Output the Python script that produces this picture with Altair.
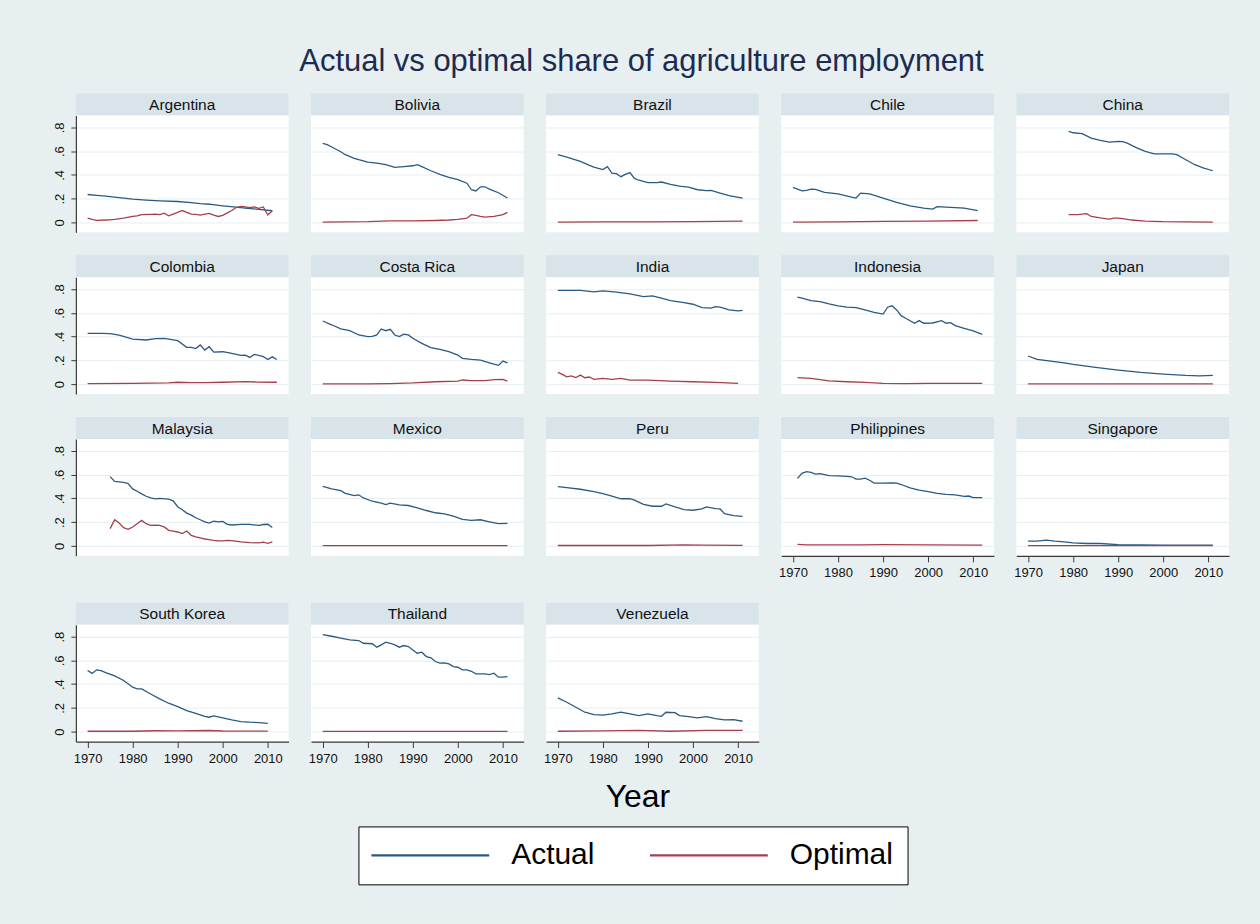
import altair as alt
import pandas as pd

# Share of employment in agriculture: (year, share) pairs per country.
argentina_actual = [(1970, .235), (1972, .228), (1974, .222), (1976, .213), (1978, .204), (1980, .196),
                    (1983, .188), (1986, .182), (1990, .176), (1993, .166), (1995, .158), (1997, .153),
                    (2000, .14), (2003, .128), (2005, .12), (2008, .11), (2011, .098)]
argentina_optimal = [(1970, .036), (1971, .025), (1972, .017), (1974, .02), (1975, .022), (1976, .026),
                     (1978, .036), (1980, .05), (1981, .055), (1982, .065), (1984, .068), (1985, .07),
                     (1986, .066), (1987, .078), (1988, .056), (1989, .07), (1990, .084), (1991, .1),
                     (1992, .085), (1993, .07), (1994, .068), (1995, .062), (1996, .07), (1997, .076),
                     (1998, .062), (1999, .05), (2000, .06), (2001, .08), (2002, .1), (2003, .125),
                     (2004, .135), (2005, .13), (2006, .125), (2007, .13), (2008, .118), (2009, .13),
                     (2010, .062), (2011, .098)]

bolivia_actual = [(1970, .665), (1971, .655), (1972, .635), (1974, .595), (1975, .57), (1977, .54),
                  (1978, .528), (1980, .508), (1982, .50), (1984, .486), (1986, .463), (1988, .47),
                  (1990, .477), (1991, .486), (1992, .47), (1994, .435), (1996, .405), (1998, .38),
                  (2000, .36), (2002, .33), (2003, .275), (2004, .265), (2005, .30), (2006, .30),
                  (2007, .28), (2009, .25), (2011, .205)]
bolivia_optimal = [(1970, .003), (1975, .005), (1980, .006), (1985, .012), (1990, .013), (1995, .016),
                   (1998, .02), (2000, .025), (2002, .035), (2003, .065), (2004, .06), (2005, .05),
                   (2006, .045), (2008, .05), (2010, .065), (2011, .085)]

brazil_actual = [(1970, .57), (1972, .55), (1975, .514), (1977, .48), (1978, .466), (1979, .455),
                 (1980, .445), (1981, .47), (1982, .415), (1983, .41), (1984, .385), (1985, .405),
                 (1986, .42), (1987, .37), (1988, .355), (1990, .335), (1992, .335), (1993, .34),
                 (1995, .32), (1997, .305), (1999, .297), (2001, .275), (2003, .267), (2004, .27),
                 (2006, .247), (2008, .225), (2011, .205)]
brazil_optimal = [(1970, .003), (1980, .004), (1990, .005), (2000, .007), (2011, .01)]

chile_actual = [(1970, .295), (1972, .265), (1973, .27), (1974, .28), (1975, .278), (1977, .253),
                (1980, .24), (1983, .213), (1984, .205), (1985, .247), (1987, .24), (1990, .205),
                (1993, .168), (1996, .14), (1999, .12), (2001, .112), (2002, .133), (2005, .126),
                (2008, .12), (2011, .10)]
chile_optimal = [(1970, .003), (1980, .005), (1990, .008), (2000, .011), (2011, .016)]

china_actual = [(1979, .766), (1980, .755), (1982, .747), (1984, .71), (1986, .69), (1988, .676),
                (1990, .682), (1991, .68), (1992, .668), (1994, .63), (1996, .598), (1998, .578),
                (2000, .578), (2002, .578), (2003, .57), (2005, .528), (2007, .486), (2009, .458),
                (2011, .435)]
china_optimal = [(1979, .065), (1981, .065), (1983, .073), (1984, .05), (1986, .038), (1988, .028),
                 (1989, .036), (1990, .036), (1991, .031), (1993, .02), (1996, .011), (2000, .006),
                 (2005, .004), (2011, .003)]

colombia_actual = [(1970, .428), (1973, .428), (1975, .425), (1977, .412), (1980, .38), (1983, .372),
                   (1985, .383), (1987, .386), (1990, .366), (1992, .31), (1993, .31), (1994, .30),
                   (1995, .33), (1996, .287), (1997, .315), (1998, .27), (2000, .273), (2002, .26),
                   (2004, .242), (2005, .245), (2006, .225), (2007, .25), (2008, .243), (2009, .231),
                   (2010, .208), (2011, .23), (2012, .208)]
colombia_optimal = [(1970, .005), (1980, .006), (1988, .01), (1990, .016), (1993, .012), (1996, .012),
                    (2000, .016), (2005, .022), (2008, .017), (2012, .016)]

costa_rica_actual = [(1970, .532), (1972, .50), (1974, .465), (1976, .45), (1978, .414), (1980, .40),
                     (1981, .402), (1982, .414), (1983, .465), (1984, .45), (1985, .462), (1986, .414),
                     (1987, .40), (1988, .42), (1989, .415), (1990, .386), (1992, .344), (1994, .307),
                     (1996, .293), (1998, .273), (2000, .245), (2001, .217), (2003, .208), (2005, .203),
                     (2007, .18), (2009, .158), (2010, .194), (2011, .18)]
costa_rica_optimal = [(1970, .003), (1980, .003), (1985, .005), (1990, .01), (1995, .02), (2000, .025),
                      (2001, .035), (2003, .03), (2006, .03), (2008, .038), (2010, .04), (2011, .025)]

india_actual = [(1970, .789), (1975, .79), (1978, .777), (1980, .785), (1983, .775), (1986, .76),
                (1989, .738), (1991, .744), (1993, .724), (1995, .704), (1998, .687), (2000, .673),
                (2002, .645), (2004, .64), (2005, .653), (2006, .648), (2008, .625), (2010, .617),
                (2011, .622)]
india_optimal = [(1970, .099), (1971, .082), (1972, .062), (1973, .07), (1974, .056), (1975, .076),
                 (1976, .054), (1977, .06), (1978, .04), (1980, .048), (1982, .04), (1984, .048),
                 (1986, .034), (1990, .034), (1995, .025), (2000, .02), (2005, .014), (2010, .006)]

indonesia_actual = [(1971, .732), (1972, .724), (1974, .704), (1976, .695), (1978, .676), (1980, .66),
                    (1982, .648), (1984, .645), (1986, .625), (1988, .605), (1990, .59), (1991, .648),
                    (1992, .66), (1993, .625), (1994, .577), (1995, .555), (1997, .513), (1998, .535),
                    (1999, .513), (2001, .515), (2003, .535), (2004, .513), (2005, .518), (2006, .493),
                    (2008, .47), (2010, .448), (2012, .42)]
indonesia_optimal = [(1971, .054), (1974, .048), (1978, .028), (1982, .02), (1986, .014), (1990, .006),
                     (1995, .004), (2000, .006), (2012, .006)]

japan_actual = [(1970, .237), (1972, .208), (1975, .194), (1978, .18), (1980, .166), (1985, .141),
                (1990, .118), (1995, .099), (2000, .085), (2005, .073), (2008, .07), (2011, .073)]
japan_optimal = [(1970, .003), (1990, .003), (2011, .003)]

malaysia_actual = [(1975, .583), (1976, .543), (1977, .54), (1978, .535), (1979, .525), (1980, .48),
                   (1981, .46), (1982, .438), (1983, .418), (1984, .404), (1985, .396), (1986, .40),
                   (1988, .393), (1989, .38), (1990, .33), (1991, .304), (1992, .276), (1993, .259),
                   (1994, .237), (1995, .22), (1996, .203), (1997, .192), (1998, .209), (1999, .203),
                   (2000, .206), (2001, .181), (2002, .176), (2004, .181), (2006, .181), (2008, .173),
                   (2009, .18), (2010, .182), (2011, .155)]
malaysia_optimal = [(1975, .145), (1976, .22), (1977, .192), (1978, .153), (1979, .14), (1980, .159),
                    (1981, .187), (1982, .215), (1983, .187), (1984, .173), (1985, .175), (1986, .173),
                    (1987, .16), (1988, .131), (1989, .125), (1990, .117), (1991, .103), (1992, .125),
                    (1993, .089), (1994, .075), (1995, .067), (1996, .058), (1997, .053), (1998, .047),
                    (1999, .042), (2000, .042), (2001, .047), (2002, .045), (2004, .033), (2006, .028),
                    (2008, .025), (2009, .031), (2010, .022), (2011, .033)]

mexico_actual = [(1970, .502), (1972, .48), (1974, .465), (1975, .443), (1977, .424), (1978, .43),
                 (1979, .404), (1981, .376), (1983, .36), (1984, .348), (1985, .36), (1987, .346),
                 (1989, .34), (1991, .32), (1993, .298), (1995, .279), (1997, .27), (1999, .25),
                 (2001, .223), (2003, .215), (2005, .22), (2007, .203), (2009, .187), (2011, .19)]
mexico_optimal = [(1970, .002), (1990, .002), (2011, .002)]

peru_actual = [(1970, .50), (1972, .491), (1975, .477), (1978, .457), (1980, .44), (1982, .42),
               (1984, .397), (1986, .397), (1987, .386), (1989, .349), (1991, .334), (1993, .334),
               (1994, .354), (1996, .329), (1998, .306), (2000, .30), (2002, .311), (2003, .329),
               (2005, .314), (2006, .311), (2007, .271), (2009, .254), (2011, .249)]
peru_optimal = [(1970, .003), (1990, .003), (1998, .008), (2002, .006), (2011, .004)]

philippines_actual = [(1971, .569), (1972, .611), (1973, .626), (1974, .62), (1975, .605), (1976, .609),
                      (1977, .60), (1978, .591), (1980, .589), (1982, .586), (1983, .582), (1984, .563),
                      (1985, .562), (1986, .571), (1987, .553), (1988, .529), (1990, .529), (1992, .531),
                      (1993, .528), (1994, .517), (1996, .489), (1998, .469), (2000, .457), (2002, .443),
                      (2004, .434), (2006, .429), (2008, .417), (2009, .42), (2010, .406), (2012, .406)]
philippines_optimal = [(1971, .012), (1973, .008), (1985, .008), (1990, .01), (2000, .008), (2012, .007)]

singapore_actual = [(1970, .04), (1972, .04), (1974, .049), (1976, .04), (1978, .034), (1980, .026),
                    (1983, .02), (1986, .02), (1990, .011), (1995, .009), (2000, .006), (2005, .006),
                    (2011, .006)]
singapore_optimal = [(1970, .002), (1990, .002), (2011, .002)]

south_korea_actual = [(1970, .514), (1971, .49), (1972, .52), (1973, .514), (1974, .497), (1976, .469),
                      (1978, .43), (1980, .374), (1981, .36), (1982, .36), (1984, .317), (1986, .275),
                      (1988, .239), (1990, .211), (1992, .177), (1994, .154), (1996, .129), (1997, .121),
                      (1998, .132), (2000, .115), (2002, .098), (2004, .084), (2006, .079), (2008, .076),
                      (2010, .07)]
south_korea_optimal = [(1970, .003), (1980, .003), (1985, .007), (1990, .006), (1997, .009), (2000, .005),
                       (2010, .004)]

thailand_actual = [(1970, .817), (1972, .803), (1974, .787), (1976, .772), (1978, .767), (1979, .744),
                   (1980, .742), (1981, .74), (1982, .711), (1983, .73), (1984, .753), (1985, .744),
                   (1986, .73), (1987, .711), (1988, .725), (1989, .716), (1990, .688), (1991, .66),
                   (1992, .669), (1993, .632), (1994, .621), (1995, .59), (1996, .576), (1997, .578),
                   (1998, .57), (1999, .548), (2000, .542), (2001, .52), (2002, .52), (2003, .508),
                   (2004, .486), (2005, .486), (2006, .486), (2007, .48), (2008, .492), (2009, .458),
                   (2010, .458), (2011, .463)]
thailand_optimal = [(1970, .002), (1990, .002), (2011, .002)]

venezuela_actual = [(1970, .284), (1972, .247), (1974, .205), (1976, .163), (1978, .143), (1980, .138),
                    (1982, .149), (1984, .163), (1986, .149), (1988, .135), (1990, .149), (1992, .135),
                    (1993, .129), (1994, .163), (1996, .16), (1997, .135), (1999, .126), (2001, .115),
                    (2003, .126), (2005, .11), (2007, .098), (2009, .10), (2011, .087)]
venezuela_optimal = [(1970, .003), (1980, .006), (1988, .01), (1995, .003), (2003, .01), (2011, .01)]

countries = ["Argentina", "Bolivia", "Brazil", "Chile", "China",
             "Colombia", "Costa Rica", "India", "Indonesia", "Japan",
             "Malaysia", "Mexico", "Peru", "Philippines", "Singapore",
             "South Korea", "Thailand", "Venezuela"]
series_by_country = {
    "Argentina": (argentina_actual, argentina_optimal),
    "Bolivia": (bolivia_actual, bolivia_optimal),
    "Brazil": (brazil_actual, brazil_optimal),
    "Chile": (chile_actual, chile_optimal),
    "China": (china_actual, china_optimal),
    "Colombia": (colombia_actual, colombia_optimal),
    "Costa Rica": (costa_rica_actual, costa_rica_optimal),
    "India": (india_actual, india_optimal),
    "Indonesia": (indonesia_actual, indonesia_optimal),
    "Japan": (japan_actual, japan_optimal),
    "Malaysia": (malaysia_actual, malaysia_optimal),
    "Mexico": (mexico_actual, mexico_optimal),
    "Peru": (peru_actual, peru_optimal),
    "Philippines": (philippines_actual, philippines_optimal),
    "Singapore": (singapore_actual, singapore_optimal),
    "South Korea": (south_korea_actual, south_korea_optimal),
    "Thailand": (thailand_actual, thailand_optimal),
    "Venezuela": (venezuela_actual, venezuela_optimal),
}
series_names = ["Actual", "Optimal"]
series_colors = ["#2a5a83", "#a3404b"]
year_ticks = [1970, 1980, 1990, 2000, 2010]
share_ticks = [0, 0.2, 0.4, 0.6, 0.8]

rows = []
for country in countries:
    for label, points in zip(series_names, series_by_country[country]):
        for year, share in points:
            rows.append({"country": country, "series": label, "year": year, "share": share})
df = pd.DataFrame(rows)

FONT = "Liberation Sans"
BG = "#e8eff1"
STRIP = "#d8e4ea"
GRID = "#e6eef1"
AXIS = "#3a3a3a"
PW, PH = 213, 117
NCOL = 5

# Long horizontal stroke as legend key; drawn wider than its nominal symbol box
color_enc = alt.Color(
    "series:N", title=None,
    scale=alt.Scale(domain=series_names, range=series_colors),
    legend=alt.Legend(
        orient="none", legendX=283, legendY=734, direction="horizontal",
        symbolType="M-6,0H6", symbolSize=387, symbolStrokeWidth=2.2,
        symbolOffset=43, labelOffset=66,
        labelFont=FONT, labelFontSize=30, labelColor="black",
        fillColor="white", strokeColor="black", padding=14,
        columnPadding=50,
    ),
)


def panel(idx, country):
    row, col = divmod(idx, NCOL)
    has_y = col == 0
    has_x = row == 3 or country in ("Philippines", "Singapore")

    strip = alt.Chart(pd.DataFrame({"country": [country]})).mark_text(
        font=FONT, fontSize=15.5, color="#111111"
    ).encode(
        text="country:N", x=alt.value(PW / 2), y=alt.value(11.5)
    ).properties(width=PW, height=22, view=alt.ViewBackground(fill=STRIP, stroke=None))

    if has_x:
        x_axis = alt.Axis(values=year_ticks, format="d", title=None, grid=False,
                          labelFont=FONT, labelFontSize=13, labelColor="#111111",
                          domainColor=AXIS, domainWidth=1.2, tickColor=AXIS,
                          tickSize=6, labelPadding=4.5)
    else:
        x_axis = None

    if has_y:
        y_axis = alt.Axis(values=share_ticks, title=None,
                          labelExpr="datum.value == 0 ? '0' : '.' + format(datum.value * 10, 'd')",
                          labelAngle=270, labelAlign="center", labelBaseline="bottom",
                          labelFont=FONT, labelFontSize=13, labelColor="#111111",
                          domainColor=AXIS, domainWidth=1.2, tickColor=AXIS,
                          tickSize=5, labelPadding=4, gridColor=GRID, gridWidth=1)
    else:
        y_axis = alt.Axis(values=share_ticks, title=None, labels=False, ticks=False,
                          domain=False, gridColor=GRID, gridWidth=1)

    plot = alt.Chart(df[df["country"] == country]).mark_line(strokeWidth=1.3).encode(
        x=alt.X("year:Q", scale=alt.Scale(domain=[1967.4, 2014.6], nice=False, zero=False), axis=x_axis),
        y=alt.Y("share:Q", scale=alt.Scale(domain=[-0.084, 0.9], nice=False, zero=False), axis=y_axis),
        color=color_enc,
    ).properties(width=PW, height=PH, view=alt.ViewBackground(fill="white", stroke=None))

    return alt.vconcat(strip, plot, spacing=0)


panels = [panel(i, c) for i, c in enumerate(countries)]
grid = alt.concat(*panels, columns=NCOL, spacing={"row": 23, "column": 19.5})

footer = alt.Chart(pd.DataFrame({"label": ["Year"]})).mark_text(
    font=FONT, fontSize=32, color="black"
).encode(
    text="label:N", x=alt.value(563), y=alt.value(32)
).properties(width=1154, height=135, view=alt.ViewBackground(fill=None, stroke=None))

chart = alt.vconcat(grid, footer, spacing=0).properties(
    title=alt.TitleParams(
        "Actual vs optimal share of agriculture employment",
        font=FONT, fontSize=31, fontWeight="normal", color="#1d2b4f",
        anchor="middle", offset=16,
    ),
    background=BG,
    padding={"left": 53, "top": 45, "right": 31, "bottom": 24},
).configure_view(stroke=None)

chart.save("out.html", embed_options={"renderer": "svg", "actions": False})
